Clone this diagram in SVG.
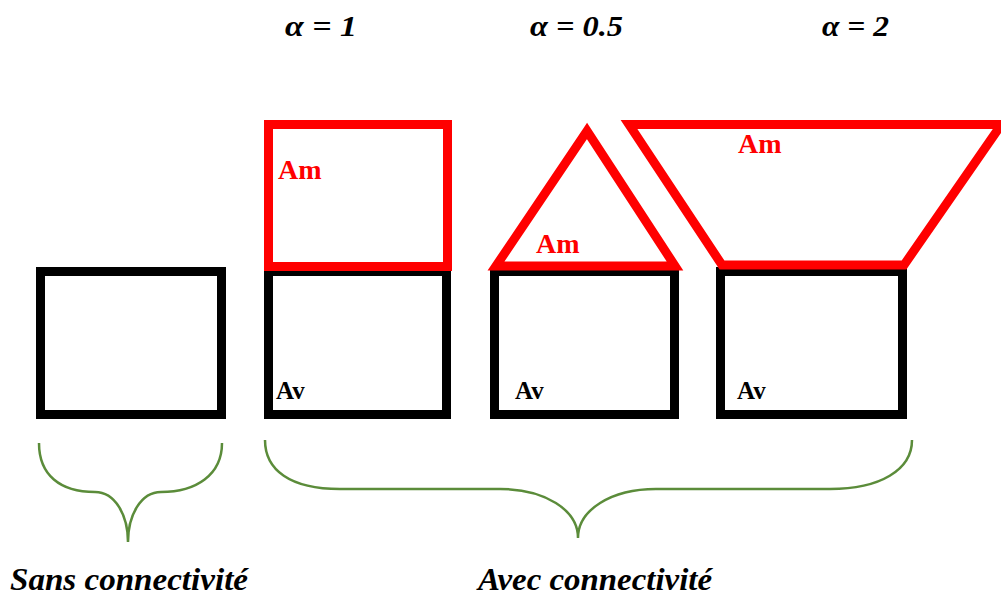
<svg xmlns="http://www.w3.org/2000/svg" width="1001" height="596" viewBox="0 0 1001 596">
<style>
.bk{fill:none;stroke:#000;stroke-width:9}
.rd{fill:none;stroke:#ff0000;stroke-width:9;stroke-linejoin:miter}
.br{fill:none;stroke:#5b8c3a;stroke-width:2.5}
.t{font-family:"Liberation Serif","Times New Roman",serif;font-weight:bold}
.it{font-style:italic;fill:#000}
.am{fill:#ff0000;font-size:28px}
.av{fill:#000;font-size:25px}
</style>
<rect width="1001" height="596" fill="#fff"/>
<g id="titles">
<text class="t it" x="285" y="36" font-size="29" textLength="72" lengthAdjust="spacingAndGlyphs">α = 1</text>
<text class="t it" x="530" y="36" font-size="29" textLength="93" lengthAdjust="spacingAndGlyphs">α = 0.5</text>
<text class="t it" x="822" y="36" font-size="29" textLength="67" lengthAdjust="spacingAndGlyphs">α = 2</text>
</g>
<g id="box0"><rect class="bk" x="40.5" y="271.5" width="181" height="143"/></g>
<g id="box1">
<rect class="bk" x="268.5" y="271.5" width="178" height="143"/>
<rect class="rd" x="268.5" y="124.5" width="179" height="142"/>
<text class="t am" x="278" y="179">Am</text>
<text class="t av" x="276" y="399">Av</text>
</g>
<g id="box2">
<rect class="bk" x="494.5" y="271.5" width="180" height="143"/>
<polygon class="rd" points="587,131 496,266 675,266"/>
<text class="t am" x="536" y="253">Am</text>
<text class="t av" x="515" y="399">Av</text>
</g>
<g id="box3">
<rect class="bk" x="720.5" y="271.5" width="182" height="143"/>
<polygon class="rd" points="629,124.5 1001,124.5 1001,125 904,265 722,265"/>
<text class="t am" x="738" y="153">Am</text>
<text class="t av" x="737" y="399">Av</text>
</g>
<g id="connectors">
<path class="br" d="M39,443 C39,475 60,492 95,492 C115,492 128,515 128,542 C128,515 141,492 161,492 C196,492 222,475 222,443"/>
<path class="br" d="M265,440 C265,470 290,489 340,489 L500,489 C545,489 578,510 578,538 C578,510 611,489 656,489 L830,489 C880,489 912,470 912,440"/>
</g>
<g id="labels">
<text class="t it" x="10" y="590" font-size="32" textLength="238" lengthAdjust="spacingAndGlyphs">Sans connectivité</text>
<text class="t it" x="478" y="590" font-size="32" textLength="234" lengthAdjust="spacingAndGlyphs">Avec connectivité</text>
</g>
</svg>
